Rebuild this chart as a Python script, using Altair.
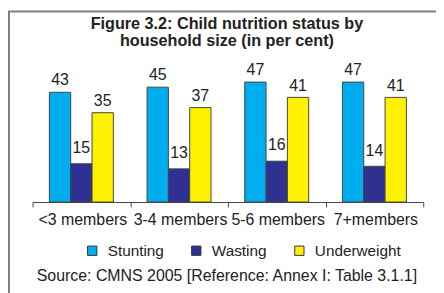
import altair as alt
import pandas as pd

categories = ["<3 members", "3-4 members", "5-6 members", "7+members"]
series = ["Stunting", "Wasting", "Underweight"]
stunting = [43, 45, 47, 47]
wasting = [15, 13, 16, 14]
underweight = [35, 37, 41, 41]
colors = ["#00AEEF", "#2E3192", "#FFF200"]
title_lines = ["Figure 3.2: Child nutrition status by", "household size (in per cent)"]
source_note = "Source: CMNS 2005 [Reference: Annex I: Table 3.1.1]"

rows = []
for i, c in enumerate(categories):
    for s, vals in zip(series, [stunting, wasting, underweight]):
        rows.append({"cat": c, "series": s, "value": vals[i]})
df = pd.DataFrame(rows)

FONT = "Arial, Liberation Sans, sans-serif"
TXT = "#222222"
FS = 16.2

x = alt.X("cat:N", sort=categories, title=None,
          scale=alt.Scale(paddingInner=0, paddingOuter=0),
          axis=alt.Axis(tickBand="extent", labelAngle=0, labelFontSize=FS, labelFont=FONT,
                        labelColor=TXT, domainColor="#444444", tickColor="#444444", tickSize=5,
                        labelPadding=5, labelOffset=1, grid=False))
y = alt.Y("value:Q", scale=alt.Scale(domain=[0, 50]), axis=None)
xo = alt.XOffset("series:N", sort=series, scale=alt.Scale(paddingInner=0, paddingOuter=0.79))
color = alt.Color("series:N", sort=series, scale=alt.Scale(domain=series, range=colors),
                  legend=alt.Legend(title=None, orient="none", legendX=53, legendY=171.5,
                                    direction="horizontal", columns=3, symbolType="square",
                                    symbolSize=90, symbolStrokeColor="#333333", symbolStrokeWidth=1,
                                    labelFontSize=15.6, labelFont=FONT, labelColor=TXT,
                                    labelOffset=8, columnPadding=25))

base = alt.Chart(df)
bars = base.mark_bar(stroke="#444444", strokeWidth=1).encode(x=x, y=y, xOffset=xo, color=color)
lab_main = base.transform_filter(alt.datum.series != "Wasting").mark_text(
    dy=-7, baseline="alphabetic", fontSize=FS, font=FONT, color=TXT
).encode(x=x, y=y, xOffset=xo, text="value:Q")
lab_w = base.transform_filter(alt.datum.series == "Wasting").mark_text(
    dy=-11, baseline="alphabetic", fontSize=FS, font=FONT, color=TXT
).encode(x=x, y=y, xOffset=xo, text="value:Q")

one = pd.DataFrame({"t": [source_note], "title": ["\n".join(title_lines)]})
title = alt.Chart(one).mark_text(fontSize=16.5, fontWeight="bold", font=FONT, color=TXT,
                                 baseline="alphabetic", align="center", lineBreak="\n",
                                 lineHeight=17).encode(
    x=alt.value(198), y=alt.value(-46), text="title:N")
note = alt.Chart(one).mark_text(fontSize=FS, font=FONT, color=TXT, baseline="alphabetic",
                                align="center").encode(
    x=alt.value(198), y=alt.value(210), text="t:N")
frame_left = alt.Chart(one).mark_rule(color="#808080", strokeWidth=2).encode(
    x=alt.value(-24), y=alt.value(-64), y2=alt.value(300))
frame_top = alt.Chart(one).mark_rule(color="#808080", strokeWidth=2).encode(
    x=alt.value(-25), x2=alt.value(420), y=alt.value(-64))

chart = alt.layer(bars, lab_main, lab_w, title, note, frame_left, frame_top).properties(
    width=398, height=130,
    autosize="none",
    padding={"left": 25, "top": 65, "right": 13, "bottom": 90},
).configure_view(stroke=None)

chart.save("out.html", embed_options={"renderer": "svg", "actions": False})
